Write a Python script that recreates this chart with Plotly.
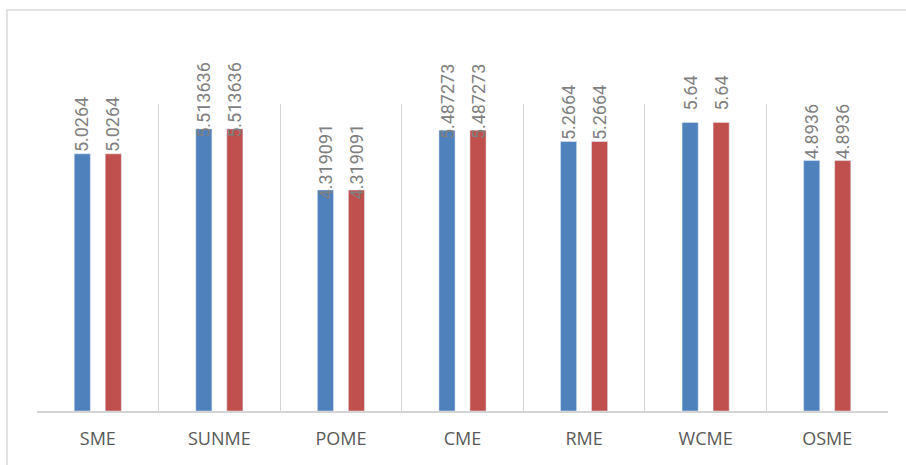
import plotly.graph_objects as go

categories = ["SME", "SUNME", "POME", "CME", "RME", "WCME", "OSME"]
series_a = [5.0264, 5.513636, 4.319091, 5.487273, 5.2664, 5.64, 4.8936]
series_b = [5.0264, 5.513636, 4.319091, 5.487273, 5.2664, 5.64, 4.8936]
labels_a = ["5.0264", "5.513636", "4.319091", "5.487273", "5.2664", "5.64", "4.8936"]
labels_b = ["5.0264", "5.513636", "4.319091", "5.487273", "5.2664", "5.64", "4.8936"]

W, H = 906, 465
ML, MR, MT, MB = 37, 18, 104, 54
BARGAP = 0.49
BARGROUPGAP = 0.48
plot_w = W - ML - MR
cat_px = plot_w / len(categories)
slot_px = cat_px * (1 - BARGAP) / 2

fig = go.Figure()
fig.add_trace(go.Bar(x=categories, y=series_a, marker_color="#4f81bd", name="A"))
fig.add_trace(go.Bar(x=categories, y=series_b, marker_color="#c0504d", name="B"))

annotations = []
for vals, labs, sgn in ((series_a, labels_a, -1), (series_b, labels_b, 1)):
    for c, v, t in zip(categories, vals, labs):
        annotations.append(dict(
            x=c, y=v, xref="x", yref="y", text=t, showarrow=False,
            textangle=-90, xanchor="center", yanchor="middle",
            xshift=sgn * slot_px / 2, yshift=29,
            font=dict(family="Roboto, Open Sans, sans-serif", size=18, color="#7f7f7f"),
        ))

fig.update_layout(
    width=W, height=H,
    margin=dict(l=ML, r=MR, t=MT, b=MB),
    paper_bgcolor="white", plot_bgcolor="white",
    showlegend=False,
    barmode="group", bargap=BARGAP, bargroupgap=BARGROUPGAP,
    annotations=annotations,
    shapes=[dict(type="rect", xref="paper", yref="paper",
                 x0=(7 - ML) / plot_w, x1=1.2,
                 y0=-0.5, y1=(H - MB - 10) / (H - MT - MB),
                 line=dict(color="#d9d9d9", width=1.5), layer="below")],
)
fig.update_xaxes(
    type="category", tickson="boundaries", showgrid=True, gridcolor="#d4d4d4", gridwidth=1,
    showline=True, linecolor="#d4d4d4", linewidth=1.5, ticks="",
    tickfont=dict(family="Open Sans, sans-serif", size=18, color="#595959"),
    ticklabelstandoff=11,
)
fig.update_yaxes(range=[0, 6], showgrid=False, showticklabels=False, zeroline=False, showline=False)

fig.write_html("out.html")
